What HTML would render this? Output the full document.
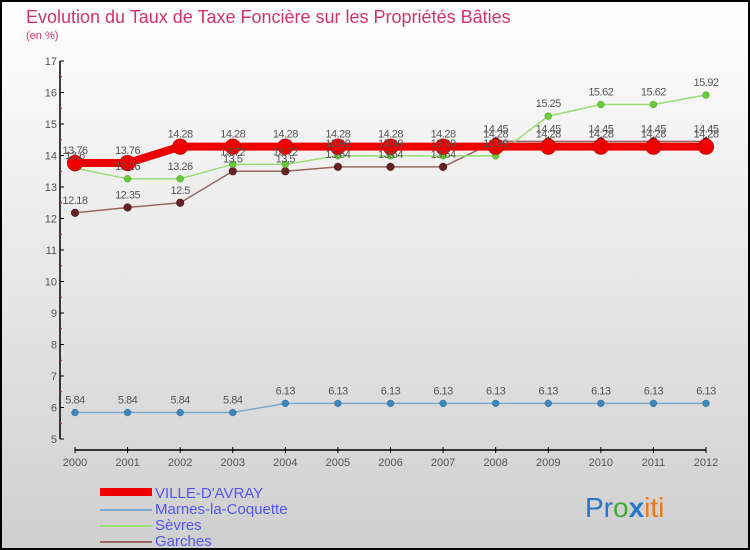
<!DOCTYPE html>
<html><head><meta charset="utf-8"><style>
body{margin:0;width:750px;height:550px;overflow:hidden;font-family:"Liberation Sans",sans-serif}
#wrap{position:absolute;left:0;top:0;width:746px;height:546px;border:2px solid #000;background:linear-gradient(#ffffff,#cfcfcf)}
</style></head><body>
<div id="wrap">
<svg id="chart" width="746" height="546" style="position:absolute;left:0;top:0">
<text x="24" y="21" font-size="18" fill="#d0336a">Evolution du Taux de Taxe Foncière sur les Propriétés Bâties</text>
<text x="24" y="37" font-size="11" fill="#d0336a">(en %)</text>
<g id="axes"></g><g id="series"></g><g id="labels"></g>
<g>
<rect x="98" y="486" width="52" height="8" fill="#e00"/>
<text x="153" y="496" font-size="15" fill="#5555ee">VILLE-D'AVRAY</text>
<rect x="98" y="507" width="52" height="2" fill="#7aaad0"/>
<text x="153" y="512" font-size="15" fill="#5555ee">Marnes-la-Coquette</text>
<rect x="98" y="523" width="52" height="2" fill="#99dd77"/>
<text x="153" y="528" font-size="15" fill="#5555ee">Sèvres</text>
<rect x="98" y="539" width="52" height="2" fill="#996666"/>
<text x="153" y="544" font-size="15" fill="#5555ee">Garches</text>
</g>
<text x="583" y="515" font-size="28"><tspan fill="#2277cc">Pr</tspan><tspan fill="#44aa33">o</tspan><tspan fill="#2277cc" font-weight="bold">x</tspan><tspan fill="#ee7711">iti</tspan></text>
</svg>
</div>
<script>
const years=[2000,2001,2002,2003,2004,2005,2006,2007,2008,2009,2010,2011,2012];
const yTicks=[5,6,7,8,9,10,11,12,13,14,15,16,17];
const ville=[13.76,13.76,14.28,14.28,14.28,14.28,14.28,14.28,14.28,14.28,14.28,14.28,14.28];
const marnes=[5.84,5.84,5.84,5.84,6.13,6.13,6.13,6.13,6.13,6.13,6.13,6.13,6.13];
const sevres=[13.6,13.26,13.26,13.72,13.72,13.99,13.99,13.99,13.99,15.25,15.62,15.62,15.92];
const garches=[12.18,12.35,12.5,13.5,13.5,13.64,13.64,13.64,14.45,14.45,14.45,14.45,14.45];
const NS='http://www.w3.org/2000/svg';
const X=i=>73+i*(704-73)/12;
const Y=v=>59+(17-v)*(437-59)/12;
function mk(p,t,a){const e=document.createElementNS(NS,t);for(const k in a)e.setAttribute(k,a[k]);p.appendChild(e);return e;}
const ax=document.getElementById('axes'),sg=document.getElementById('series'),lg=document.getElementById('labels');
let e=mk(ax,'line',{x1:58,y1:59,x2:58,y2:437,stroke:'#000','stroke-width':1.5});

e=mk(ax,'line',{x1:73,y1:448,x2:704,y2:448,stroke:'#000','stroke-width':1.5});

yTicks.forEach(v=>{
 mk(ax,'line',{x1:58,y1:Y(v),x2:62,y2:Y(v),stroke:'#000'});
 if(v<17)mk(ax,'line',{x1:57,y1:Y(v+0.5),x2:60,y2:Y(v+0.5),stroke:'#e00'});
 const t=mk(ax,'text',{x:55,y:Y(v)+4,'font-size':11,fill:'#555','text-anchor':'end'});t.textContent=v;
 
});
years.forEach((yr,i)=>{
 mk(ax,'line',{x1:X(i),y1:445,x2:X(i),y2:451,stroke:'#000'});
 const t=mk(ax,'text',{x:X(i),y:464,'font-size':11,fill:'#555','text-anchor':'middle'});t.textContent=yr;
 
});
function draw(name,data,col,dot,w,r){
 const pl=mk(sg,'polyline',{points:data.map((v,i)=>X(i)+','+Y(v)).join(' '),fill:'none',stroke:col,'stroke-width':w});
 
 data.forEach((v,i)=>{
  const c=mk(sg,'circle',{cx:X(i),cy:Y(v),r:r,fill:dot,stroke:'rgba(0,0,0,0.3)','stroke-width':0.5});
  
  const t=mk(lg,'text',{x:X(i),y:Y(v)-9,'font-size':11,fill:'#555','text-anchor':'middle','letter-spacing':'-0.5'});t.textContent=v;
  
 });
}
draw('marnes',marnes,'#7aaad0','#3a88c0',1.5,3.5);
draw('garches',garches,'#996666','#662222',1.5,4);
draw('sevres',sevres,'#99dd77','#66cc33',1.5,3.5);
draw('ville',ville,'#e00','#e00',8,8);
</script>
</body></html>
